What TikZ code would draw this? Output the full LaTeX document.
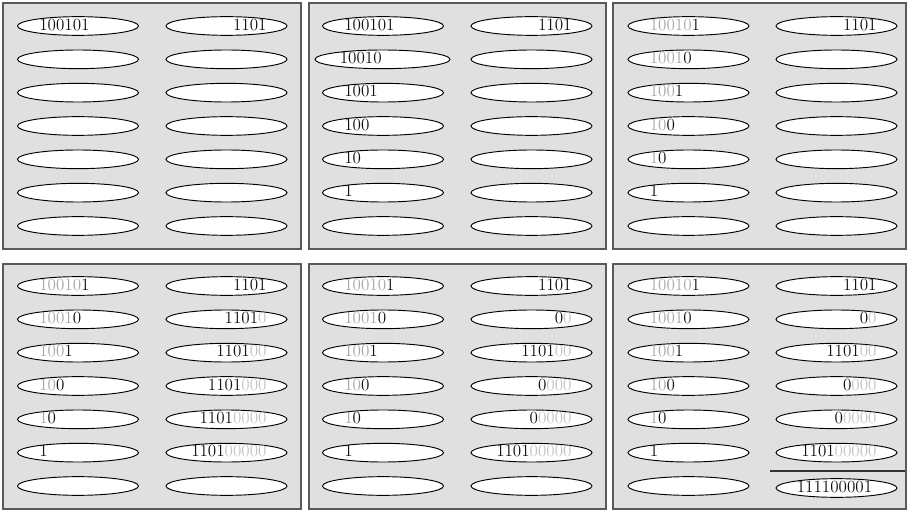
\documentclass[tikz,border=0pt]{standalone}
\usetikzlibrary{shapes.geometric}
\definecolor{panelbg}{HTML}{E0E0E0}
\definecolor{panelline}{HTML}{5A5A5A}
\definecolor{fadeleft}{HTML}{A8A8A8}
\definecolor{faderight}{HTML}{C4C4C4}
\definecolor{digitcol}{HTML}{111111}
\newcommand\grayL[1]{{\color{fadeleft}#1}}
\newcommand\grayR[1]{{\color{faderight}#1}}
\newcommand\lefttxt[2]{\node[ltxt] (t#1) at ([xshift=16.5pt]#1.west) {#2};}
\newcommand\righttxt[2]{\node[rtxt] (t#1) at ([xshift=-15.5pt]#1.east) {#2};}
\begin{document}
\begin{tikzpicture}[x=0.75pt,y=-0.75pt,
  panel/.style={draw=panelline, fill=panelbg, line width=0.8pt},
  ell/.style={ellipse, draw=black, fill=white, line width=0.7pt, minimum height=14pt, inner sep=0pt},
  numtxt/.style={inner sep=0pt, text height=0.644em, text depth=0pt, text=digitcol, font=\fontsize{12.8}{14}\selectfont},
  ltxt/.style={numtxt, anchor=west},
  rtxt/.style={numtxt, anchor=east},
  sumline/.style={draw=black!80, line width=1.5pt}]
\useasboundingbox (0,0) rectangle (907,510);
% panels
\draw[panel] (3,3) rectangle (301,249);
\draw[panel] (309,3) rectangle (606,249);
\draw[panel] (613,3) rectangle (906,249);
\draw[panel] (3,264) rectangle (301,509);
\draw[panel] (309,264) rectangle (606,509);
\draw[panel] (613,264) rectangle (906,509);
% ellipses
\foreach \k/\cl/\cr/\yz in {1/78/226.5/26, 2/383/531.5/26, 3/688.5/836.5/26,
                            4/78/226.5/286, 5/383/531.5/286, 6/688.5/836.5/286}{
  \foreach \i in {1,...,7}{
    \pgfmathsetmacro\yy{\yz+33.333*(\i-1)}
    \ifnum\k\i=22 \def\ew{101.25pt}\def\lx{382.5}\else\def\ew{90.75pt}\def\lx{\cl}\fi
    \ifnum\k\i=67 \pgfmathsetmacro\yr{\yy+2}\else\let\yr\yy\fi
    \node[ell, minimum width=\ew] (p\k l\i) at (\lx,\yy) {};
    \node[ell, minimum width=90.75pt] (p\k r\i) at (\cr,\yr) {};
  }
}
% panel 1
\lefttxt{p1l1}{100101}
\righttxt{p1r1}{1101}
% panel 2
\lefttxt{p2l1}{100101}
\node[ltxt] (tp2l2) at ([xshift=18.75pt]p2l2.west) {10010};
\lefttxt{p2l3}{1001}
\lefttxt{p2l4}{100}
\lefttxt{p2l5}{10}
\lefttxt{p2l6}{1}
\righttxt{p2r1}{1101}
% left columns of panels 3-6
\foreach \k in {3,4,5,6}{
  \lefttxt{p\k l1}{\grayL{10010}1}
  \lefttxt{p\k l2}{\grayL{1001}0}
  \lefttxt{p\k l3}{\grayL{100}1}
  \lefttxt{p\k l4}{\grayL{10}0}
  \lefttxt{p\k l5}{\grayL{1}0}
  \lefttxt{p\k l6}{1}
  \righttxt{p\k r1}{1101}
}
% panel 4 right
\righttxt{p4r2}{1101\grayR{0}}
\righttxt{p4r3}{1101\grayR{00}}
\righttxt{p4r4}{1101\grayR{000}}
\righttxt{p4r5}{1101\grayR{0000}}
\righttxt{p4r6}{1101\grayR{00000}}
% panels 5 and 6 right
\foreach \k in {5,6}{
  \righttxt{p\k r2}{0\grayR{0}}
  \righttxt{p\k r3}{1101\grayR{00}}
  \righttxt{p\k r4}{0\grayR{000}}
  \righttxt{p\k r5}{0\grayR{0000}}
  \righttxt{p\k r6}{1101\grayR{00000}}
}
% sum
\coordinate (sumA) at (770,471);
\coordinate (sumB) at (905,471);
\draw[sumline] (sumA) -- (sumB);
\node[numtxt, anchor=center] (tp6r7) at ([xshift=-1.5pt]p6r7.center) {111100001};
\end{tikzpicture}
\end{document}
